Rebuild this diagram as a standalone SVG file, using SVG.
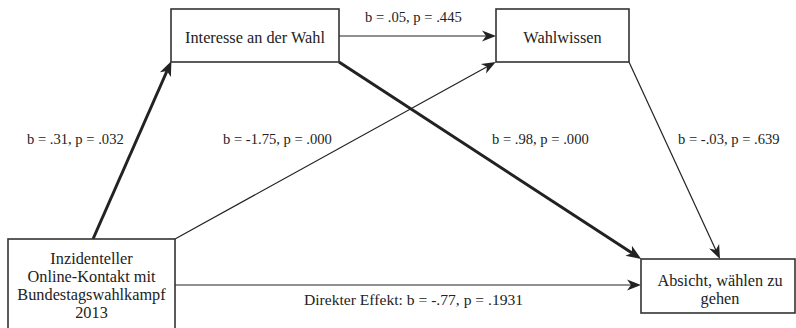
<svg xmlns="http://www.w3.org/2000/svg" width="796" height="328" viewBox="0 0 796 328">
<style>
.box{fill:#fff;stroke:#333;stroke-width:1.6}
.t{font-family:"Liberation Serif","DejaVu Serif",serif;font-size:14.6px;fill:#222}
.n{font-size:16.3px}
.c{text-anchor:middle}
.thin{stroke:#222;stroke-width:1.2;fill:none}
.thick{stroke:#222;stroke-width:3;fill:none}
</style>
<defs>
<marker id="ah" markerUnits="userSpaceOnUse" markerWidth="16" markerHeight="12" refX="4" refY="5.5" orient="auto" overflow="visible">
<path d="M0,0 L14,5.5 L0,11 L4,5.5 z" fill="#222"/>
</marker>
<marker id="ahb" markerUnits="userSpaceOnUse" markerWidth="18" markerHeight="14" refX="4" refY="6" orient="auto" overflow="visible">
<path d="M0,0 L15,6 L0,12 L4,6 z" fill="#222"/>
</marker>
</defs>
<rect width="796" height="328" fill="#fff"/>
<g id="connectors">
<line class="thick" x1="93" y1="239" x2="167" y2="71" marker-end="url(#ahb)"/>
<line class="thin" x1="175" y1="239" x2="487" y2="66.8" marker-end="url(#ah)"/>
<line class="thin" x1="339" y1="36" x2="486" y2="36" marker-end="url(#ah)"/>
<line class="thick" x1="339" y1="62" x2="632" y2="253" marker-end="url(#ahb)"/>
<line class="thin" x1="629" y1="62" x2="715.8" y2="249.9" marker-end="url(#ah)"/>
<line class="thin" x1="175" y1="285" x2="631" y2="285" marker-end="url(#ah)"/>
<text class="t" x="27" y="144">b = .31, p = .032</text>
<text class="t" x="223" y="144">b = -1.75, p = .000</text>
<text class="t" x="365" y="22">b = .05, p = .445</text>
<text class="t" x="492" y="144">b = .98, p = .000</text>
<text class="t" x="678" y="144">b = -.03, p = .639</text>
<text class="t" x="304" y="305" style="font-size:15.6px">Direkter Effekt: b = -.77, p = .1931</text>
</g>
<g id="interesse">
<rect class="box" x="171" y="9" width="168" height="53"/>
<text class="t n c" x="255" y="43">Interesse an der Wahl</text>
</g>
<g id="wahlwissen">
<rect class="box" x="496" y="9" width="133" height="53"/>
<text class="t n c" x="562.5" y="43">Wahlwissen</text>
</g>
<g id="inzidenteller">
<rect class="box" x="8" y="239" width="167" height="100"/>
<text class="t n c" x="91.5" y="264">Inzidenteller</text>
<text class="t n c" x="91.5" y="282">Online-Kontakt mit</text>
<text class="t n c" x="91.5" y="300">Bundestagswahlkampf</text>
<text class="t n c" x="91.5" y="318">2013</text>
</g>
<g id="absicht">
<rect class="box" x="641" y="259" width="154" height="54"/>
<text class="t n c" x="720" y="285.5">Absicht, wählen zu</text>
<text class="t n c" x="720" y="304">gehen</text>
</g>
</svg>
